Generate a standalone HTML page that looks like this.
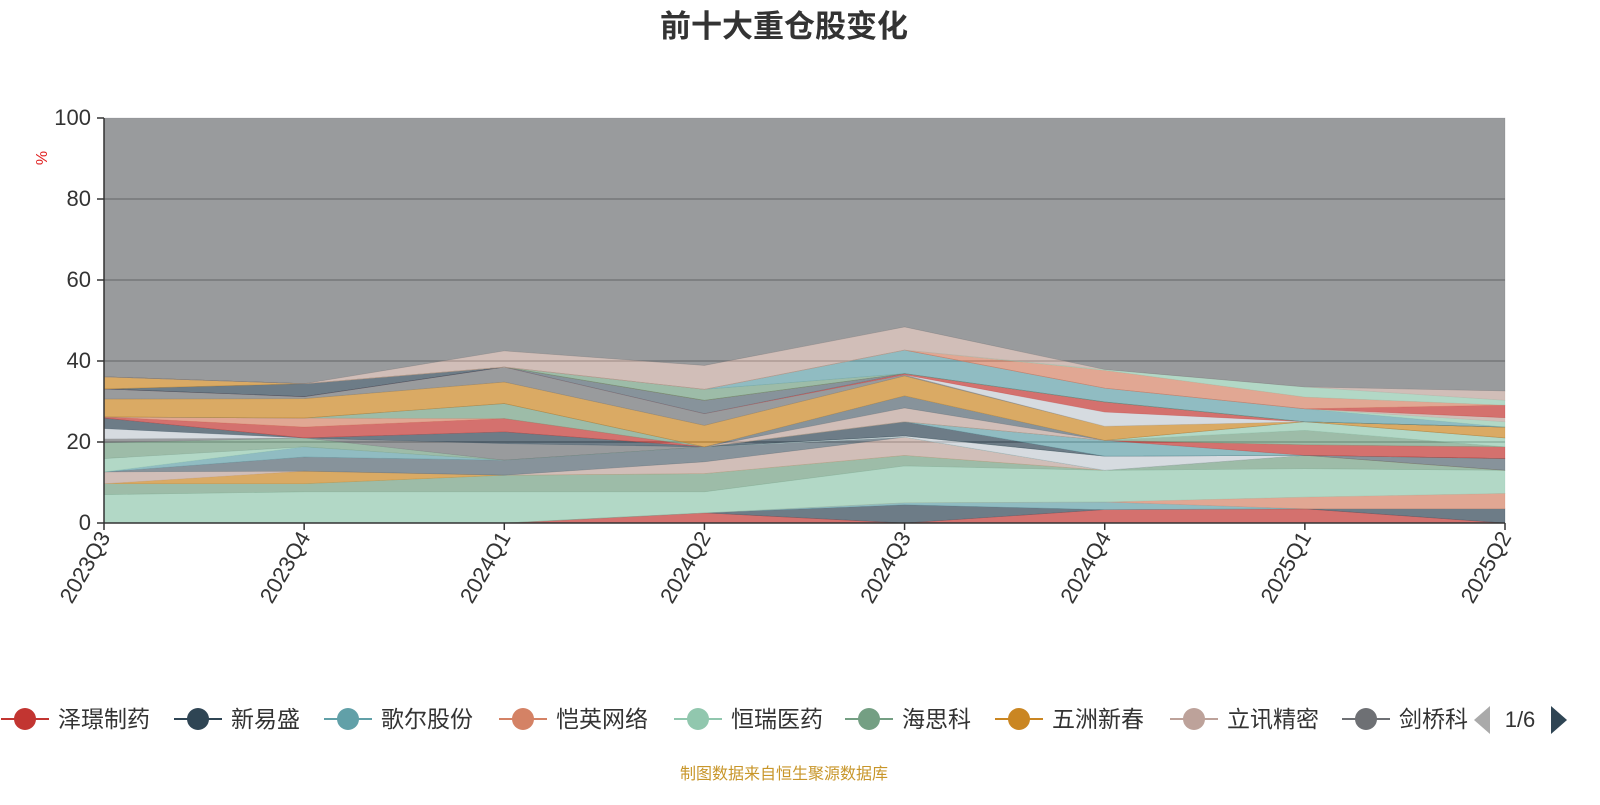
<!DOCTYPE html>
<html><head><meta charset="utf-8"><style>
body{margin:0;background:#fff;width:1600px;height:800px;overflow:hidden;font-family:"Liberation Sans","Noto Sans CJK SC",sans-serif}
</style></head><body>
<svg id="chart" width="1600" height="800" xmlns="http://www.w3.org/2000/svg" font-family="Liberation Sans, Noto Sans CJK SC, sans-serif">
<text x="784" y="37" text-anchor="middle" font-size="31" font-weight="bold" fill="#333">前十大重仓股变化</text>
<g id="grid"></g>
<g id="areas"></g>
<g id="axes"></g>
<text x="47" y="158" font-size="16" fill="#e02020" transform="rotate(-90 47 158)" text-anchor="middle">%</text>
<g id="legend"></g>
<text x="784" y="779" text-anchor="middle" font-size="16" fill="#c8962a">制图数据来自恒生聚源数据库</text>
</svg>
<script>
const categories=["2023Q3","2023Q4","2024Q1","2024Q2","2024Q3","2024Q4","2025Q1","2025Q2"];
const yTicks=[0,20,40,60,80,100];
const legendNames=["泽璟制药","新易盛","歌尔股份","恺英网络","恒瑞医药","海思科","五洲新春","立讯精密","剑桥科技"];
const layerColors=["#c23531","#2f4554","#61a0a8","#d48265","#91c7ae","#749f83","#ca8622","#bda29a","#546570","#61a0a8","#91c7ae","#c4ccd3","#749f83",
"#6e7074","#c4ccd3","#2f4554","#61a0a8","#c23531","#d48265","#749f83","#91c7ae","#bda29a","#546570","#ca8622","#6e7074","#c4ccd3","#c23531","#546570","#2f4554","#ca8622","#749f83","#61a0a8","#91c7ae","#bda29a","#c23531","#d48265","#91c7ae","#bda29a"];
const s01=[0,0,0,2.5,0,3.3,3.5,0];
const s02=[0,0,0,0,4.5,0,0,3.5];
const s03=[0,0,0,0,0.5,1.9,0,0];
const s04=[0,0,0,0,0,0,2.9,3.8];
const s05=[7.0,7.7,7.7,5.2,9.1,7.8,7.0,5.7];
const s06=[2.7,2.0,4.1,4.5,2.6,0,3.3,0];
const s07=[0,3.1,0,0,0,0,0,0];
const s08=[2.9,0,0,2.9,4.5,0,0,0];
const s09=[0,3.5,3.7,3.7,0,0,0,2.9];
const s10=[0,2.5,0,0,0,0,0,0];
const s11=[3.3,0,0,0,0,0,0,0];
const s12=[0,0,0,0,0.3,3.5,0,0];
const s13=[3.9,2.2,0,0,0,0,0,0];
const s14=[1.0,0,4.1,0,0,0,0,0];
const s15=[2.5,0,0,0,0,0,0,0];
const s16=[2.6,0,2.9,0,3.5,0,0,0];
const s17=[0,0,0,0,0,3.9,0,0];
const s18=[0.3,2.7,3.3,0,0,0,2.6,2.9];
const s19=[0,2.2,0,0,0,0,0,0];
const s20=[0,0,3.7,0,0,0,3.6,0];
const s21=[0,0,0,0,0,0,2.1,2.2];
const s22=[0,0,0,0,3.4,0,0,0];
const s23=[0,0,0,0,3.0,0,0,0];
const s24=[4.4,4.8,5.3,5.3,4.9,3.5,0,2.7];
const s25=[2.5,0.5,3.7,2.9,0.3,0,0,0];
const s26=[0,0,0,0,0,3.5,0,0];
const s27=[0,0,0,0,0.3,2.5,0,0];
const s28=[0,0,0,3.3,0,0,0,0];
const s29=[0,3.2,0,0,0,0,0,0];
const s30=[3.0,0,0,0,0,0,0,0];
const s31=[0,0,0,2.7,0,0,0,0];
const s32=[0,0,0,0,5.8,3.4,3.2,0];
const s33=[0,0,0,0,0,0,0,1.3];
const s34=[0,0,0,0,0,0,0,1.0];
const s35=[0,0,0,0,0,0,0,3.1];
const s36=[0,0,0,0,0,4.4,2.9,0];
const s37=[0,0,0,0,0,0.2,2.5,1.2];
const s38=[0,0,4.0,5.9,5.7,0,0,2.3];
const series=[s01,s02,s03,s04,s05,s06,s07,s08,s09,s10,s11,s12,s13,s14,s15,s16,s17,s18,s19,s20,s21,s22,s23,s24,s25,s26,s27,s28,s29,s30,s31,s32,s33,s34,s35,s36,s37,s38];

const NS="http://www.w3.org/2000/svg";
const X0=104,X1=1505,Y0=523,Y1=118;
const xs=i=>X0+(X1-X0)*i/(categories.length-1);
const ys=v=>Y0-(Y0-Y1)*v/100;
function mk(tag,attrs,parent){const e=document.createElementNS(NS,tag);for(const k in attrs)e.setAttribute(k,attrs[k]);parent.appendChild(e);return e;}
const grid=document.getElementById('grid'),areas=document.getElementById('areas'),axes=document.getElementById('axes'),legend=document.getElementById('legend');
yTicks.forEach(t=>{if(t>0&&t<100){const l=mk('line',{x1:X0,x2:X1,y1:ys(t),y2:ys(t),stroke:'#888','stroke-width':1.5},grid);}});
let cum=categories.map(()=>0);
function band(lower,upper,color,name){
  let d='M'+categories.map((c,i)=>xs(i)+','+ys(upper[i])).join(' L');
  for(let i=categories.length-1;i>=0;i--)d+=' L'+xs(i)+','+ys(lower[i]);
  const p=mk('path',{d:d+'Z',fill:color,'fill-opacity':0.7,stroke:color,'stroke-opacity':0.35,'stroke-width':0.6},areas);
  
  
}
series.forEach((s,k)=>{const up=cum.map((c,i)=>c+s[i]);band(cum,up,layerColors[k],'area-layer-'+(k+1));cum=up;});
band(cum,categories.map(()=>100),'#6e7074','area-other');
let a=mk('line',{x1:X0,x2:X0,y1:Y1,y2:Y0,stroke:'#333','stroke-width':1.5},axes);
a=mk('line',{x1:X0,x2:X1,y1:Y0,y2:Y0,stroke:'#333','stroke-width':1.5},axes);
yTicks.forEach(t=>{
  const tk=mk('line',{x1:X0-7,x2:X0,y1:ys(t),y2:ys(t),stroke:'#333','stroke-width':1.5},axes);
  
  const tx=mk('text',{x:X0-13,y:ys(t)+7,'text-anchor':'end','font-size':22,fill:'#333'},axes);tx.textContent=t;
  
});
categories.forEach((c,i)=>{
  const tk=mk('line',{x1:xs(i),x2:xs(i),y1:Y0,y2:Y0+7,stroke:'#333','stroke-width':1.5},axes);
  
  const tx=mk('text',{x:xs(i)+7,y:Y0+14,'text-anchor':'end','font-size':22,fill:'#333',transform:`rotate(-60 ${xs(i)+7} ${Y0+14})`},axes);tx.textContent=c;
  
});
const lgX=[25,198,348,523,698,869,1019,1194,1366];
legendNames.forEach((n,i)=>{
  const g=mk('g',{},legend);
  
  const col=layerColors[i===8?13:i];
  mk('line',{x1:lgX[i]-24,x2:lgX[i]+24,y1:719,y2:719,stroke:col,'stroke-width':2},g);
  mk('circle',{cx:lgX[i],cy:719,r:11,fill:col},g);
  const t=mk('text',{x:lgX[i]+33,y:727,'font-size':23,fill:'#333'},g);t.textContent=i===8?'剑桥科':n;
});
const pl=mk('path',{d:'M1490,706 L1490,734 L1474,720Z',fill:'#aaa'},legend);
const pt=mk('text',{x:1520,y:727,'text-anchor':'middle','font-size':22,fill:'#333'},legend);pt.textContent='1/6';
const pr=mk('path',{d:'M1551,706 L1551,734 L1567,720Z',fill:'#2f4554'},legend);
</script>
</body></html>
